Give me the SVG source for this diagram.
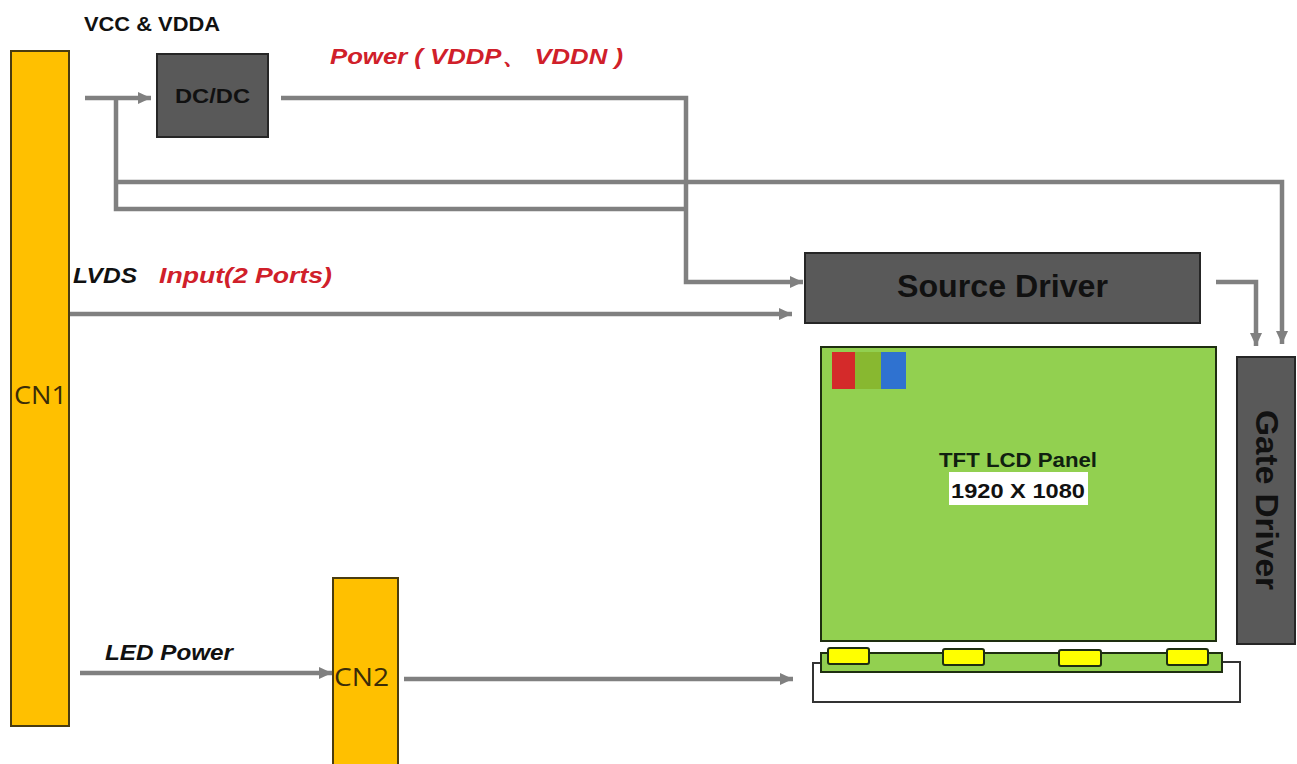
<svg xmlns="http://www.w3.org/2000/svg" width="1297" height="764" viewBox="0 0 1297 764">
<defs>
<marker id="arr" markerUnits="userSpaceOnUse" markerWidth="14" markerHeight="12" refX="13" refY="6" orient="auto">
<path d="M0,0 L13,6 L0,12 z" fill="#808080"/>
</marker>
<style>
.conn{fill:none;stroke:#808080;stroke-width:4.5}
.dark{fill:#595959;stroke:#262626;stroke-width:2}
.orange{fill:#ffc000;stroke:#4a3c10;stroke-width:2}
.green{fill:#92d050;stroke:#1e2e10;stroke-width:2}
.led{fill:#ffff00;stroke:#1e2e10;stroke-width:2}
.lbl{font-family:"Liberation Sans",Arial,sans-serif;font-weight:bold}
.red{fill:#d0202a;font-style:italic}
.blk{fill:#111;font-style:italic}
.cn{font-family:"Open Sans","Liberation Sans",sans-serif;fill:#3a2c08;font-size:25px}
</style>
</defs>
<rect width="1297" height="764" fill="#ffffff"/>

<g id="connectors">
<path class="conn" d="M85,98 H151" marker-end="url(#arr)"/>
<path class="conn" d="M116,98 V209 H686"/>
<path class="conn" d="M116,182 H1282 V344" marker-end="url(#arr)"/>
<path class="conn" d="M281,98 H686 V282 H803" marker-end="url(#arr)"/>
<path class="conn" d="M70,314 H792" marker-end="url(#arr)"/>
<path class="conn" d="M1216,282 H1256 V346" marker-end="url(#arr)"/>
<path class="conn" d="M80,673 H332" marker-end="url(#arr)"/>
<path class="conn" d="M404,679 H793" marker-end="url(#arr)"/>
</g>

<g id="labels">
<text class="lbl" x="84" y="31" font-size="20" fill="#111" textLength="136" lengthAdjust="spacingAndGlyphs">VCC &amp; VDDA</text>
<text class="lbl red" x="330" y="64" font-size="22" textLength="293" lengthAdjust="spacingAndGlyphs">Power ( VDDP、 VDDN )</text>
<text class="lbl blk" x="73" y="283" font-size="22" textLength="64" lengthAdjust="spacingAndGlyphs">LVDS</text>
<text class="lbl red" x="159" y="283" font-size="22" textLength="173" lengthAdjust="spacingAndGlyphs">Input(2 Ports)</text>
<text class="lbl blk" x="105" y="660" font-size="22" textLength="128" lengthAdjust="spacingAndGlyphs">LED Power</text>
</g>

<g id="cn1">
<rect class="orange" x="11" y="51" width="58" height="675"/>
<text class="cn" x="14" y="404" textLength="53" lengthAdjust="spacingAndGlyphs">CN1</text>
</g>

<g id="dcdc">
<rect class="dark" x="157" y="54" width="111" height="83"/>
<text class="lbl" x="175" y="103" font-size="21" fill="#111" textLength="75" lengthAdjust="spacingAndGlyphs">DC/DC</text>
</g>

<g id="source-driver">
<rect class="dark" x="805" y="253" width="395" height="70"/>
<text class="lbl" x="897" y="297" font-size="31" fill="#111" textLength="211" lengthAdjust="spacingAndGlyphs">Source Driver</text>
</g>

<g id="gate-driver">
<rect class="dark" x="1237" y="357" width="58" height="287"/>
<text class="lbl" x="1266" y="500" font-size="31" fill="#111" text-anchor="middle" dominant-baseline="central" transform="rotate(90 1266 500)" textLength="180" lengthAdjust="spacingAndGlyphs">Gate Driver</text>
</g>

<g id="panel">
<rect class="green" x="821" y="347" width="395" height="294"/>
<rect x="832" y="352" width="23" height="37" fill="#d42a2a"/>
<rect x="855" y="352" width="26" height="37" fill="#88b830"/>
<rect x="881" y="352" width="25" height="37" fill="#2f72d0"/>
<text class="lbl" x="939" y="467" font-size="21" fill="#102010" textLength="158" lengthAdjust="spacingAndGlyphs">TFT LCD Panel</text>
<rect x="949" y="472" width="139" height="33" fill="#ffffff"/>
<text class="lbl" x="951" y="498" font-size="21" fill="#111" textLength="134" lengthAdjust="spacingAndGlyphs">1920 X 1080</text>
</g>

<g id="backlight">
<path d="M821,663 H813 V702 H1240 V662 H1222" fill="none" stroke="#333" stroke-width="2"/>
<rect class="green" x="821" y="653" width="401" height="19"/>
<rect class="led" x="828" y="648" width="41" height="16" rx="2"/>
<rect class="led" x="943" y="649" width="41" height="16" rx="2"/>
<rect class="led" x="1059" y="650" width="42" height="16" rx="2"/>
<rect class="led" x="1167" y="649" width="41" height="16" rx="2"/>
</g>

<g id="cn2">
<rect class="orange" x="333" y="578" width="65" height="200"/>
<text class="cn" x="334" y="686" textLength="55" lengthAdjust="spacingAndGlyphs">CN2</text>
</g>
</svg>
